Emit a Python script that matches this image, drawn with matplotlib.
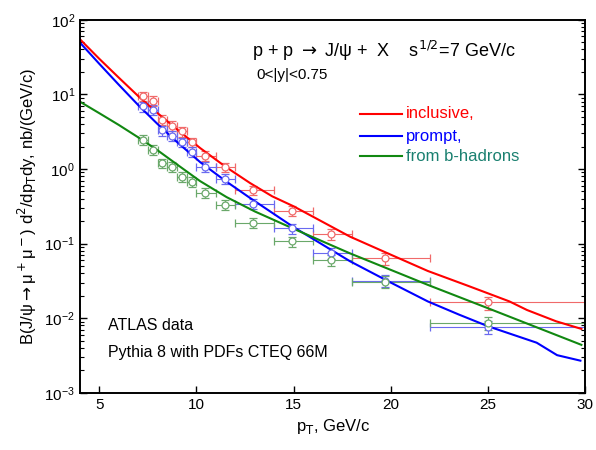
import matplotlib
matplotlib.use('Agg')
import matplotlib.pyplot as plt
import numpy as np

plt.rcParams['font.family'] = ['Liberation Sans', 'DejaVu Sans']
plt.rcParams['mathtext.fontset'] = 'dejavusans'

# ATLAS data points (mean pT, bin edges)
pt = [7.25, 7.75, 8.25, 8.75, 9.25, 9.75, 10.45, 11.45, 12.9, 14.9, 16.9, 19.7, 25.0]
bin_lo = [7.0, 7.5, 8.0, 8.5, 9.0, 9.5, 10.0, 11.0, 12.0, 14.0, 16.0, 18.0, 22.0]
bin_hi = [7.5, 8.0, 8.5, 9.0, 9.5, 10.0, 11.0, 12.0, 14.0, 16.0, 18.0, 22.0, 30.0]

incl = [9.5, 8.2, 4.6, 3.8, 3.2, 2.3, 1.5, 1.06, 0.52, 0.275, 0.135, 0.064, 0.0163]
prompt = [6.9, 6.2, 3.3, 2.8, 2.3, 1.7, 1.08, 0.74, 0.345, 0.16, 0.074, 0.032, 0.0076]
bhad = [2.45, 1.8, 1.2, 1.08, 0.79, 0.68, 0.48, 0.33, 0.19, 0.107, 0.06, 0.031, 0.0086]
rel_err = [0.15, 0.15, 0.15, 0.15, 0.15, 0.15, 0.15, 0.15, 0.15, 0.15, 0.17, 0.18, 0.2]

# Pythia 8 curves
x_incl = [4, 5, 6, 7, 8, 9, 10.2, 11.5, 12.75, 13.9, 15, 17.9, 20, 21.9, 24, 26.1, 27, 28.5, 29.8]
y_incl = [55, 30, 16.8, 9.5, 5.6, 3.4, 1.9, 1.07, 0.65, 0.43, 0.316, 0.124, 0.071, 0.043,
          0.027, 0.0168, 0.0129, 0.0091, 0.0072]
x_prompt = [4, 5, 6, 7, 8, 9, 10.2, 11.5, 12.75, 15, 17.9, 20, 21.9, 23.5, 25, 27.5, 28.55, 29.75]
y_prompt = [49.6, 25.7, 13.5, 7.2, 4.0, 2.3, 1.23, 0.69, 0.41, 0.166, 0.058, 0.030, 0.0168,
            0.0112, 0.0078, 0.0047, 0.0032, 0.0027]
x_bhad = [4, 5, 6, 7, 8, 9, 10.18, 11.55, 13, 15, 17.9, 21.9, 25, 29.8]
y_bhad = [8.0, 5.6, 3.9, 2.66, 1.78, 1.15, 0.69, 0.42, 0.27, 0.158, 0.074, 0.028, 0.0136, 0.0044]

fig = plt.figure(figsize=(5.96, 4.5), dpi=100)
ax = fig.add_axes([0.134, 0.127, 0.848, 0.829])

pt_a = np.array(pt)
xerr = [pt_a - np.array(bin_lo), np.array(bin_hi) - pt_a]
for vals, col in [(incl, '#f06a6a'), (prompt, '#6a6af0'), (bhad, '#6aa86a')]:
    v = np.array(vals)
    ax.errorbar(pt, v, xerr=xerr, yerr=v * np.array(rel_err), fmt='o', mfc='white',
                mec=col, ms=5, mew=0.9, ecolor=col, elinewidth=0.8, capsize=3, capthick=0.8)

ax.plot(x_incl, y_incl, color='#ff0000', lw=1.5)
ax.plot(x_prompt, y_prompt, color='#0000ff', lw=1.5)
ax.plot(x_bhad, y_bhad, color='#118811', lw=1.5)

ax.set_yscale('log')
ax.set_xlim(4, 30)
ax.set_ylim(1e-3, 1e2)
ax.set_xticks([5, 10, 15, 20, 25, 30])
ax.tick_params(axis='both', which='both', direction='in', labelsize=11)
ax.tick_params(axis='y', which='both', right=True)
ax.tick_params(which='major', length=5, width=1)
ax.tick_params(which='minor', length=3, width=0.8)
for s in ax.spines.values():
    s.set_linewidth(1.4)

ax.set_xlabel(r'p$_\mathrm{T}$, GeV/c', fontsize=12)
ax.set_ylabel(r'B(J/ψ$\rightarrow$μ$^+$μ$^-$) d$^2$/dp$_\mathrm{T}$dy, nb/(GeV/c)', fontsize=12)

ax.text(0.34, 0.9, r'p + p $\rightarrow$ J/ψ +  X    s$^{1/2}$=7 GeV/c', transform=ax.transAxes, fontsize=13)
ax.text(0.35, 0.84, '0<|y|<0.75', transform=ax.transAxes, fontsize=11)

leg_y = [0.748, 0.688, 0.634]
labels = ['inclusive,', 'prompt,', 'from b-hadrons']
lcols = ['#ff0000', '#0000ff', '#118811']
tcols = ['#ff0000', '#0000ff', '#1a8070']
for yy, lab, lc, tc in zip(leg_y, labels, lcols, tcols):
    ax.plot([0.555, 0.638], [yy, yy], color=lc, lw=1.5, transform=ax.transAxes)
    ax.text(0.645, yy, lab, color=tc, fontsize=12, va='center', transform=ax.transAxes)

ax.text(0.055, 0.18, 'ATLAS data', transform=ax.transAxes, fontsize=11.5, va='center')
ax.text(0.055, 0.108, 'Pythia 8 with PDFs CTEQ 66M', transform=ax.transAxes, fontsize=11.5, va='center')

fig.savefig('out.png', dpi=100)
